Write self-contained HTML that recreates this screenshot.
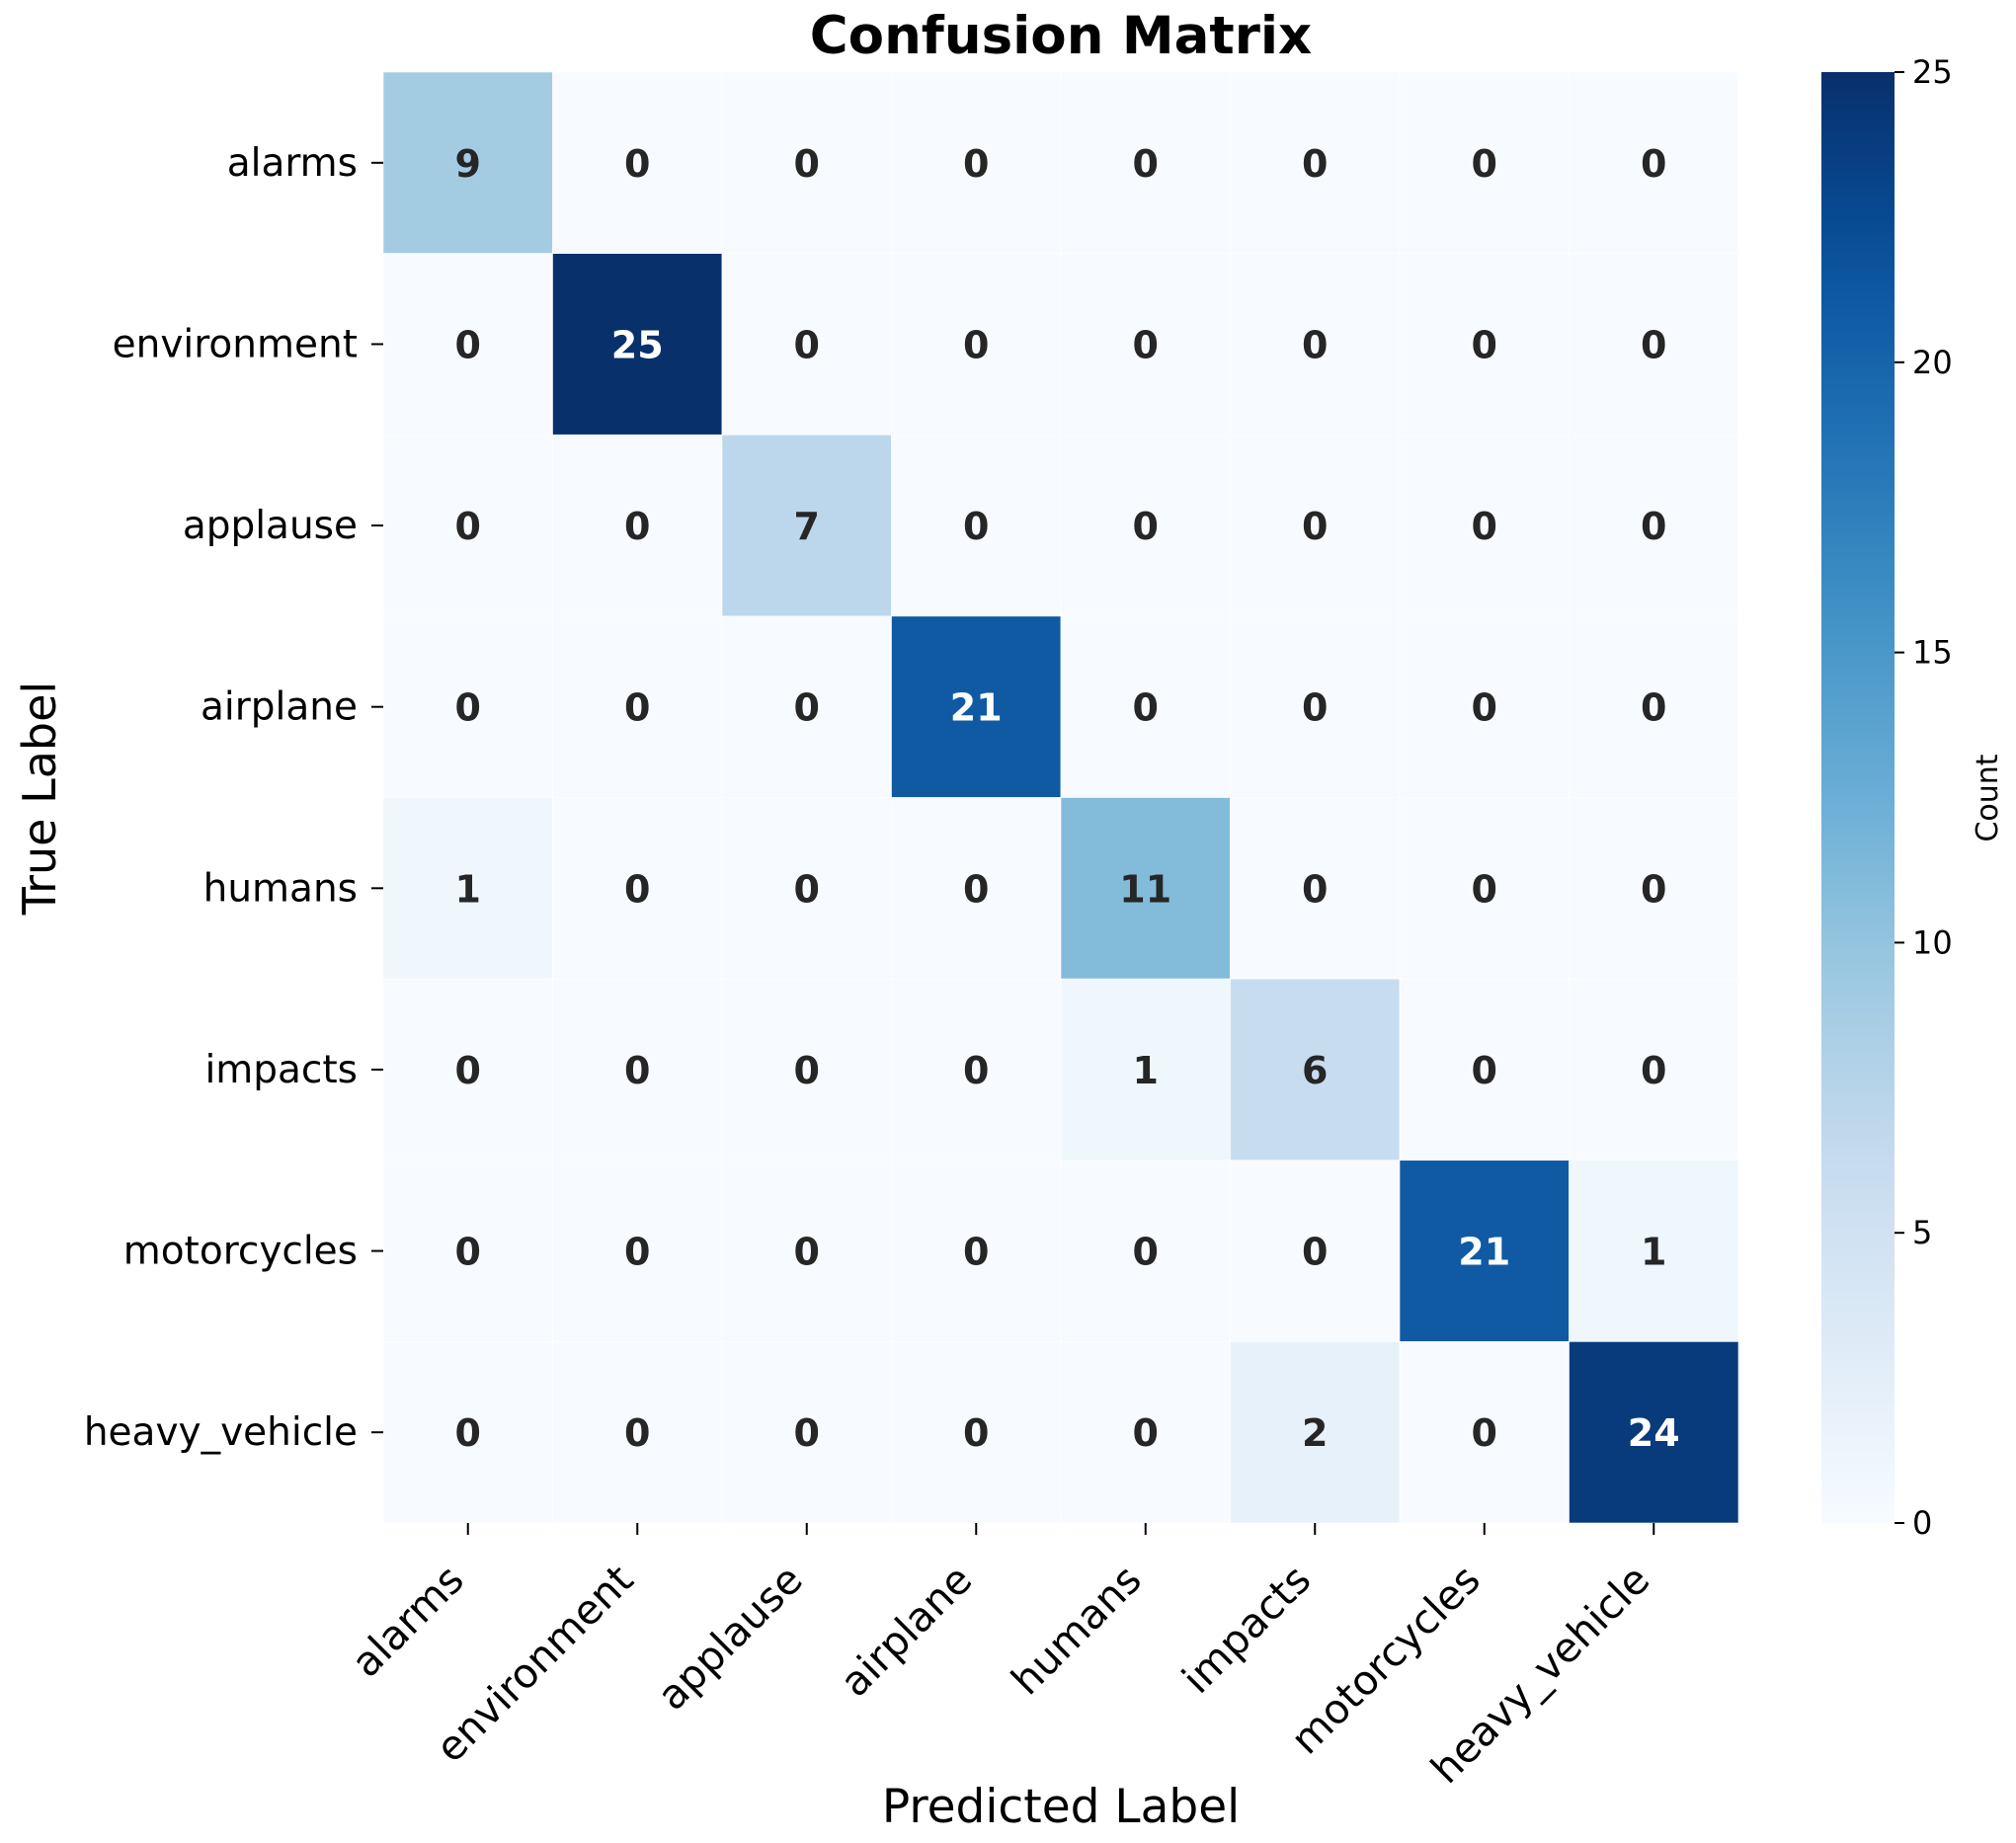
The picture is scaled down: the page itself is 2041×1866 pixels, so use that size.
<!DOCTYPE html>
<html><head><meta charset="utf-8"><style>
html,body{margin:0;padding:0;background:#fff;}
svg{display:block;font-family:"DejaVu Sans","Liberation Sans",sans-serif;}
</style></head><body>
<svg id="chart" width="2041" height="1866" viewBox="0 0 2041 1866">
<defs><linearGradient id="cbgrad" x1="0" y1="1" x2="0" y2="0"></linearGradient></defs>
<text x="1074" y="54" text-anchor="middle" font-size="53" font-weight="bold" fill="#000">Confusion Matrix</text>
<text x="1074" y="1845" text-anchor="middle" font-size="47" fill="#000">Predicted Label</text>
<text transform="translate(56,808) rotate(-90)" text-anchor="middle" font-size="46" fill="#000">True Label</text>
<g id="cells"></g><g id="xticks"></g><g id="yticks"></g><g id="cbar"></g>
<text transform="translate(2022,808) rotate(-90)" text-anchor="middle" font-size="30" fill="#000">Count</text>
</svg>
<script>
const labels = ["alarms","environment","applause","airplane","humans","impacts","motorcycles","heavy_vehicle"];
const matrix = [
 [9,0,0,0,0,0,0,0],
 [0,25,0,0,0,0,0,0],
 [0,0,7,0,0,0,0,0],
 [0,0,0,21,0,0,0,0],
 [1,0,0,0,11,0,0,0],
 [0,0,0,0,1,6,0,0],
 [0,0,0,0,0,0,21,1],
 [0,0,0,0,0,2,0,24]
];
const cbTicks = [0,5,10,15,20,25];
const vmin = 0, vmax = 25;

const NS="http://www.w3.org/2000/svg";
const blues=["#f7fbff","#deebf7","#c6dbef","#9ecae1","#6baed6","#4292c6","#2171b5","#08519c","#08306b"];
function hex(h){return [1,3,5].map(i=>parseInt(h.substr(i,2),16));}
function cmap(t){t=Math.max(0,Math.min(1,t));const p=t*(blues.length-1);const i=Math.min(Math.floor(p),blues.length-2);const f=p-i;
 const a=hex(blues[i]),b=hex(blues[i+1]);return a.map((v,k)=>Math.round(v+(b[k]-v)*f));}
function rgb(c){return `rgb(${c[0]},${c[1]},${c[2]})`;}
const X0=388,X1=1760,Y0=73,Y1=1542;
const n=labels.length, cw=(X1-X0)/n, ch=(Y1-Y0)/n;
const xPos=j=>X0+j*cw, yPos=i=>Y0+i*ch;
const cbX=1844, cbW=74;
const cbY=v=>Y1-(v-vmin)/(vmax-vmin)*(Y1-Y0);
function mk(tag,attrs,parent){const e=document.createElementNS(NS,tag);for(const k in attrs)e.setAttribute(k,attrs[k]);parent.appendChild(e);return e;}
const gc=document.getElementById('cells');
matrix.forEach((row,i)=>row.forEach((v,j)=>{
 const c=cmap((v-vmin)/(vmax-vmin));
 const r=mk('rect',{x:xPos(j),y:yPos(i),width:cw,height:ch,fill:rgb(c),stroke:'#fff','stroke-width':0.6},gc);
 
 
 const lum=(0.299*c[0]+0.587*c[1]+0.114*c[2]);
 const t=mk('text',{x:xPos(j)+cw/2,y:yPos(i)+ch/2+14,'text-anchor':'middle','font-size':38,'font-weight':'bold',fill:lum<140?'#fff':'#262626'},gc);
 t.textContent=v;
 
 
}));
const gx=document.getElementById('xticks');
labels.forEach((l,j)=>{
 const x=xPos(j)+cw/2;
 const tk=mk('line',{x1:x,x2:x,y1:Y1,y2:Y1+12,stroke:'#000','stroke-width':2},gx);
 
 
 const t=mk('text',{transform:`translate(${x-2},${1602}) rotate(-45)`,'text-anchor':'end','font-size':41,fill:'#000'},gx);
 t.textContent=l;
 
 
});
const gy=document.getElementById('yticks');
labels.forEach((l,i)=>{
 const y=yPos(i)+ch/2;
 const tk=mk('line',{x1:X0-12,x2:X0,y1:y,y2:y,stroke:'#000','stroke-width':2},gy);
 
 
 const t=mk('text',{x:X0-26,y:y+13,'text-anchor':'end','font-size':39,fill:'#000'},gy);
 t.textContent=l;
 
 
});
const grad=document.getElementById('cbgrad');
for(let k=0;k<=20;k++){mk('stop',{offset:k/20,'stop-color':rgb(cmap(k/20))},grad);}
const gb=document.getElementById('cbar');
const cb=mk('rect',{x:cbX,y:Y0,width:cbW,height:Y1-Y0,fill:'url(#cbgrad)'},gb);


cbTicks.forEach(v=>{
 const y=cbY(v);
 const tk=mk('line',{x1:cbX+cbW,x2:cbX+cbW+10,y1:y,y2:y,stroke:'#000','stroke-width':2},gb);
 
 
 const t=mk('text',{x:cbX+cbW+18,y:y+11,'font-size':32,fill:'#000'},gb);
 t.textContent=v;
 
 
});
</script>
</body></html>
